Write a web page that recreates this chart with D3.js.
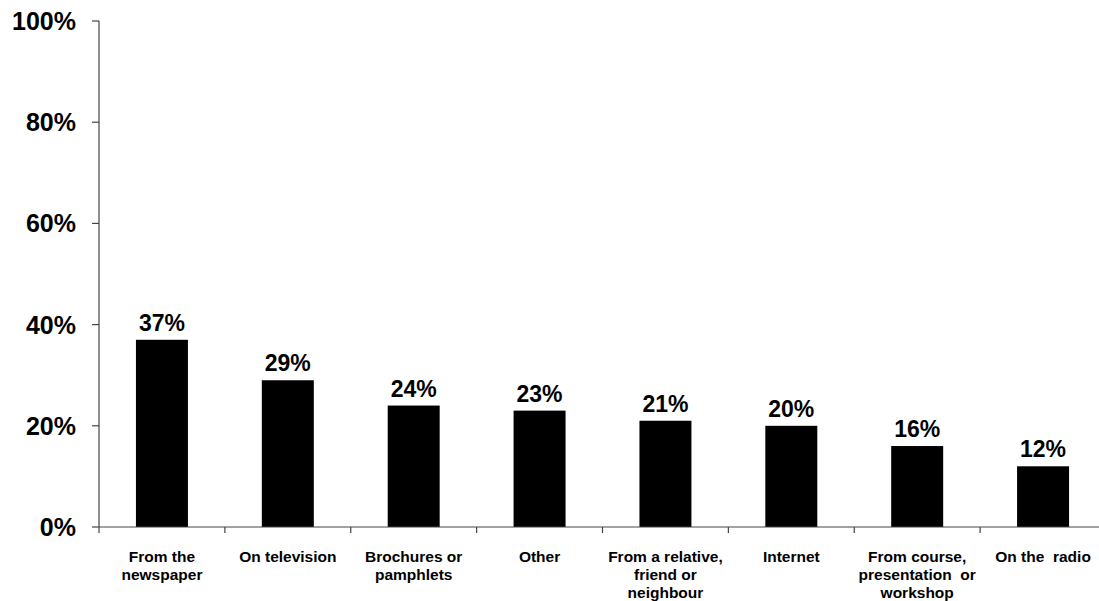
<!DOCTYPE html>
<html><head><meta charset="utf-8">
<script src="https://cdn.jsdelivr.net/npm/d3@7"></script>
<style>body{margin:0;background:#fff}svg{display:block}text{font-family:"Liberation Sans",Arial,sans-serif;font-weight:bold;fill:#000}</style>
</head><body><div id="c"></div>
<script>
const categories = [["From the","newspaper"],["On television"],["Brochures or","pamphlets"],["Other"],["From a relative,","friend or","neighbour"],["Internet"],["From course,","presentation  or","workshop"],["On the  radio"]];
const values = [37, 29, 24, 23, 21, 20, 16, 12];
const yTicks = [0, 20, 40, 60, 80, 100];

const W = 1099, H = 601;
const svg = d3.select("#c").append("svg").attr("width", W).attr("height", H);
const x = d3.scaleBand().domain(d3.range(categories.length)).range([99, 1106]).paddingInner(0.587).paddingOuter(0.2935);
const xb = d3.scaleBand().domain(d3.range(categories.length)).range([99, 1106]);
const y = d3.scaleLinear().domain([0, 100]).range([527, 21]);

// bars
svg.selectAll("rect.bar").data(values).join("rect").attr("class","bar")
  .attr("x", (d,i)=>x(i)).attr("width", x.bandwidth())
  .attr("y", d=>y(d)).attr("height", d=>y(0)-y(d)).attr("fill","#000");

// value labels
svg.selectAll("text.val").data(values).join("text").attr("class","val")
  .attr("x",(d,i)=>x(i)+x.bandwidth()/2).attr("y", d=>y(d)-9)
  .attr("text-anchor","middle").attr("font-size","23px").text(d=>d+"%");

// y axis
const ya = svg.append("g");
ya.append("line").attr("x1",99).attr("x2",99).attr("y1",y(100)).attr("y2",y(0)).attr("stroke","#444").attr("stroke-width",1.2);
ya.selectAll("line.t").data(yTicks).join("line").attr("class","t")
  .attr("x1",92).attr("x2",99).attr("y1",d=>y(d)).attr("y2",d=>y(d)).attr("stroke","#444").attr("stroke-width",1.2);
ya.selectAll("text").data(yTicks).join("text")
  .attr("x",76).attr("y",d=>y(d)+9).attr("text-anchor","end").attr("font-size","25px").text(d=>d+"%");

// x axis
const xa = svg.append("g");
xa.append("line").attr("x1",99).attr("x2",1106).attr("y1",y(0)).attr("y2",y(0)).attr("stroke","#444").attr("stroke-width",1.2);
xa.selectAll("line.t").data(d3.range(categories.length)).join("line").attr("class","t")
  .attr("x1",d=>xb(d)).attr("x2",d=>xb(d)).attr("y1",y(0)).attr("y2",y(0)+6).attr("stroke","#444").attr("stroke-width",1.2);
const lab = xa.selectAll("text").data(categories).join("text")
  .attr("text-anchor","middle").attr("font-size","15.5px")
  .attr("x",(d,i)=>xb(i)+xb.bandwidth()/2).attr("y",562);
lab.selectAll("tspan").data(d=>d).join("tspan")
  .attr("x",function(){return this.parentNode.getAttribute("x");})
  .attr("dy",(d,j)=>j===0?0:18).attr("xml:space","preserve").style("white-space","pre").text(d=>d);
</script></body></html>
